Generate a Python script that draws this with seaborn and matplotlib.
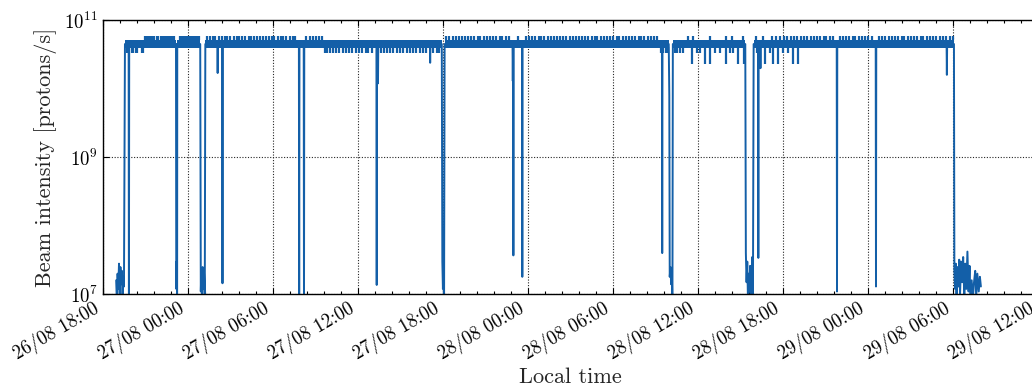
import numpy as np
import pandas as pd
import matplotlib
matplotlib.use("Agg")
import matplotlib.pyplot as plt
import matplotlib.dates as mdates
from matplotlib.ticker import FixedLocator, AutoMinorLocator, LogFormatterSciNotation, NullLocator
import seaborn as sns

# ---- data (hours after 26/08 18:00) ----
start = pd.Timestamp("2023-08-26 18:00")
axis_end_hours = 66.0

# beam-on runs
run_start = [1.57, 5.26, 7.24, 24.12, 40.22, 45.92]
run_end = [5.17, 6.88, 23.92, 39.93, 45.33, 60.05]
plateau = 4.5e10
band_lo = 4.0e10
band_hi = 5.2e10

# low readings while the beam is off (and before / after the run)
low_hours = [0.95, 1.0, 1.05, 1.1, 1.15, 1.2, 1.25, 1.3, 1.35, 1.4, 1.45, 1.5,
             5.19, 5.21, 5.23, 5.25,
             6.92, 6.96, 7.0, 7.05, 7.1, 7.15, 7.2,
             23.96, 24.0, 24.04, 24.08,
             39.97, 40.0, 40.05, 40.1, 40.15, 40.19,
             45.37, 45.42, 45.47, 45.52, 45.57, 45.62, 45.67, 45.72, 45.77, 45.82, 45.87,
             60.08, 60.13, 60.18, 60.23, 60.3, 60.36, 60.42, 60.48, 60.55, 60.62,
             60.7, 60.78, 60.85, 60.92, 61.0, 61.08, 61.15, 61.22, 61.3, 61.38,
             61.45, 61.55, 61.62, 61.7, 61.8, 61.88, 61.95]
low_values = [1.6e7, 8e6, 2.0e7, 1.2e7, 2.8e7, 1.0e7, 2.5e7, 1.4e7, 2.2e7, 9e6, 1.8e7, 1.3e7,
              1.2e7, 3.0e7, 2.0e7, 6e6,
              1.1e7, 2.2e7, 9e6, 2.5e7, 1.2e7, 2.0e7, 8e6,
              3.0e7, 1.2e7, 2.5e7, 6e6,
              8e9, 1.8e7, 2.5e7, 1.4e7, 2.0e7, 6e6,
              4.0e7, 1.5e7, 3.0e7, 8e6, 2.0e7, 1.1e7, 2.6e7, 7e6, 1.8e7, 3.5e7, 9e6,
              2.2e7, 1.2e7, 2.8e7, 8e6, 2.5e7, 1.3e7, 3.2e7, 1.0e7, 3.0e7, 1.5e7,
              3.5e7, 9e6, 2.8e7, 1.2e7, 4.2e7, 1.1e7, 2.6e7, 7e6, 1.6e7, 8e6,
              1.4e7, 2.2e7, 9e6, 2.0e7, 1.1e7, 1.8e7, 1.3e7]

# short interruptions during beam-on runs (time, lowest reading)
dip_hours = [1.85, 8.11, 8.45, 13.86, 14.2, 19.33, 19.42, 23.1, 28.93, 28.97, 29.6,
             39.47, 46.25, 46.4, 51.8, 54.55, 59.55]
dip_values = [5e6, 1.7e10, 1.45e7, 5e6, 5e6, 1.37e7, 1.2e10, 2.4e10, 1.3e10, 3.7e7, 1.8e7,
              4.0e7, 3.4e7, 2.0e10, 1.1e7, 1.3e7, 1.6e10]

# fluctuations above / below the plateau band
up_level = 5.9e10
down_level = 3.3e10
deep_level = 2.3e10
up_hours = [3.0, 3.12, 3.25, 3.4, 3.52, 3.65, 3.8, 3.92, 4.1, 4.22, 4.35, 4.5, 4.62, 4.78, 4.9, 5.05,
            5.45, 5.6, 5.72, 5.85, 6.0, 6.15, 6.3, 6.42, 6.55, 6.7, 6.82,
            7.35, 7.55, 7.75, 7.9, 8.2, 8.4, 8.6, 8.8, 9.0, 9.25, 9.45, 9.6, 9.85, 10.05,
            10.3, 10.45, 10.7, 10.9, 11.1, 11.3, 11.5, 11.7, 11.95, 12.1, 12.35, 12.55,
            12.75, 12.95, 13.2, 13.4, 13.6, 14.35, 14.6, 14.8, 15.05, 15.25, 15.45,
            24.25, 24.45, 24.7, 24.9, 25.1, 25.35, 25.55, 25.8, 26.0, 26.2, 26.45, 26.65,
            26.9, 27.1, 27.3, 27.55, 27.75, 28.0, 28.2, 28.45, 28.65, 29.3, 29.85, 30.05,
            30.3, 30.5, 30.75, 30.95, 31.15, 31.4, 31.6, 31.85, 32.05, 32.25, 32.5, 32.7,
            32.95, 33.15, 33.4, 33.6, 33.8, 34.05, 34.25, 34.5, 34.7, 34.9, 35.15, 35.35,
            35.6, 35.8, 36.0, 36.25, 36.45, 36.7, 36.9, 37.1, 37.35, 37.55, 37.8, 38.0,
            38.2, 38.45, 38.65, 38.9, 39.1,
            41.3, 41.66, 42.84, 44.0, 44.37, 45.19,
            46.1, 46.6, 47.2, 47.5, 47.8, 48.05, 48.3, 48.55, 48.8, 49.0, 49.25, 49.5,
            49.7, 49.95, 50.15, 50.4, 50.6, 50.85, 51.05, 51.3, 51.5, 52.0, 52.2, 52.45,
            52.65, 52.9, 53.1, 53.35, 53.55, 53.8, 54.0, 54.25, 54.75, 55.0, 55.2, 55.45,
            55.65, 55.9, 56.1, 56.35, 56.55, 56.8, 57.0, 57.25, 57.45, 57.7, 57.9, 58.15,
            58.35, 58.6, 58.8, 59.05, 59.25, 59.5, 59.75, 59.95]
down_hours = [1.72, 1.8, 2.08, 2.14, 2.32, 2.4, 2.8, 2.86,
              15.7, 15.85, 16.0, 16.25, 16.45, 16.7, 16.95, 17.15, 17.4, 17.6, 17.85,
              18.05, 18.3, 18.55, 18.75, 19.0, 19.6, 19.85, 20.05, 20.3, 20.5, 20.75,
              21.0, 21.2, 21.45, 21.65, 21.9, 22.1, 22.35, 22.6, 22.8, 23.3, 23.55, 23.75,
              39.35, 39.55, 39.75, 39.85,
              40.37, 40.49, 40.72, 40.96, 41.9, 42.13, 43.19, 43.54, 44.25, 44.48,
              46.13, 47.07, 48.0, 48.36]
deep_hours = [41.55, 42.48, 42.84, 43.96, 44.83, 45.23, 46.72, 47.3, 47.65, 48.71, 49.07]

# ---- assemble the trace ----
pts = [(h, v) for h, v in zip(low_hours, low_values)]
for a, b in zip(run_start, run_end):
    pts += [(a, plateau), (b, plateau)]
for h, v in zip(dip_hours, dip_values):
    pts += [(h - 0.02, plateau), (h, v), (h + 0.02, plateau)]
pts.sort()
trace = pd.DataFrame(pts, columns=["hours", "intensity"])
trace["time"] = start + pd.to_timedelta(trace["hours"], unit="h")


def to_time(hours):
    return start + pd.to_timedelta(np.asarray(hours, dtype=float), unit="h")


# ---- style ----
sns.set_theme(style="ticks")
plt.rcParams["font.family"] = ["cmr10", "DejaVu Serif"]
plt.rcParams.update({
    "mathtext.fontset": "cm",
    "axes.formatter.use_mathtext": True,
    "xtick.direction": "in",
    "ytick.direction": "in",
    "xtick.top": True,
    "ytick.right": True,
    "axes.edgecolor": "black",
    "axes.linewidth": 1.0,
    "xtick.color": "black",
    "ytick.color": "black",
    "text.color": "black",
})

blue = "#135FA8"

fig = plt.figure(figsize=(10.32, 3.86), dpi=100)
ax = fig.add_axes([102.7 / 1032, (386 - 294.3) / 386, (1038.3 - 102.7) / 1032, (294.3 - 20.3) / 386])

ax.grid(True, which="major", color="0.15", linestyle=(0, (1, 1.5)), linewidth=0.8)
ax.set_axisbelow(True)

for a, b in zip(run_start, run_end):
    ax.fill_between(to_time([a, b]), band_lo, band_hi, color=blue, linewidth=0)
ax.vlines(to_time(up_hours), band_hi * 0.98, up_level, color=blue, linewidth=1.6)
ax.vlines(to_time(down_hours), down_level, band_lo * 1.02, color=blue, linewidth=1.6)
ax.vlines(to_time(deep_hours), deep_level, band_lo * 1.02, color=blue, linewidth=1.6)

sns.lineplot(data=trace, x="time", y="intensity", ax=ax, color=blue, linewidth=1.4,
             sort=False, estimator=None)

ax.set_yscale("log")
ax.set_ylim(1e7, 1e11)
ax.set_xlim(start, to_time([axis_end_hours])[0])
ax.yaxis.set_major_locator(FixedLocator([1e7, 1e9, 1e11]))
ax.yaxis.set_major_formatter(LogFormatterSciNotation())
ax.yaxis.set_minor_locator(NullLocator())

ax.xaxis.set_major_locator(mdates.HourLocator(byhour=[0, 6, 12, 18]))
ax.xaxis.set_major_formatter(mdates.DateFormatter("%d/%m %H:%M"))
ax.xaxis.set_minor_locator(AutoMinorLocator(5))
ax.tick_params(which="major", length=4, width=0.8, labelsize=13.5)
ax.tick_params(which="minor", length=2.5, width=0.8)
for lab in ax.get_xticklabels():
    lab.set_rotation(30)
    lab.set_ha("right")

ax.set_xlabel("Local time", fontsize=16, labelpad=2)
ax.set_ylabel("Beam intensity [protons/s]", fontsize=16, labelpad=5)
for s in ax.spines.values():
    s.set_visible(True)

fig.savefig("out.png", dpi=100)
